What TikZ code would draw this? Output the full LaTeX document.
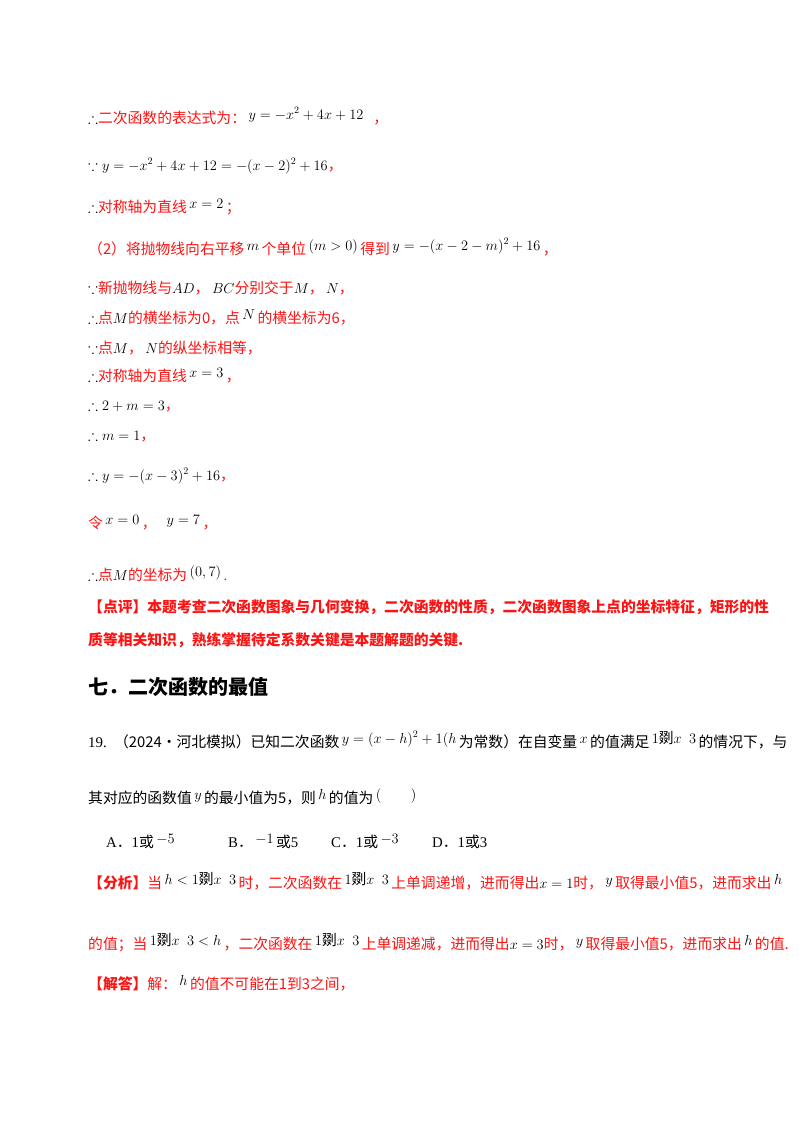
\documentclass[tikz,border=0pt]{standalone}
\usepackage{amsmath,amssymb}
\usepackage{fontspec}
\setmainfont{Liberation Serif}
\newfontfamily\cjk{Noto Sans CJK SC}
\definecolor{rd}{RGB}{250,20,20}
\newcommand{\R}[1]{\textcolor{rd}{\cjk #1}}
\newcommand{\RB}[1]{\textcolor{rd}{\cjk\bfseries #1}}
\newcommand{\K}[1]{{\cjk #1}}
\newcommand{\up}[1]{\,\raisebox{4pt}{$#1$}\,}
\newcommand{\rng}{1\text{\cjk 剟}x\ \ 3}
\begin{document}
\begin{tikzpicture}[x=1pt,y=-1pt,ln/.style={anchor=base west,inner sep=0pt,font=\fontsize{14.8}{17}\selectfont}]
\useasboundingbox (0,0) rectangle (800,1132);
\node[ln] (l1) at (88,123) {$\therefore$\R{二次函数的表达式为：}\up{y=-x^2+4x+12}\enspace\R{，}};
\node[ln] (l2) at (88,170) {$\because y=-x^2+4x+12=-(x-2)^2+16$\R{，}};
\node[ln] (l3) at (88,212) {$\therefore$\R{对称轴为直线}\up{x=2}\R{；}};
\node[ln] (l4) at (88,254) {\R{（2）将抛物线向右平移}\up{m}\R{个单位}\up{(m>0)}\R{得到}\up{y=-(x-2-m)^2+16}\R{，}};
\node[ln] (l5) at (88,293) {$\because$\R{新抛物线与}$AD$\R{，}\,$BC$\R{分别交于}$M$\R{，}\,$N$\R{，}};
\node[ln] (l6) at (88,323) {$\therefore$\R{点}$M$\R{的横坐标为0，点}\up{N}\R{的横坐标为6，}};
\node[ln] (l7) at (88,353) {$\because$\R{点}$M$\R{，}\,$N$\R{的纵坐标相等，}};
\node[ln] (l8) at (88,381) {$\therefore$\R{对称轴为直线}\up{x=3}\R{，}};
\node[ln] (l9) at (88,410) {$\therefore 2+m=3$\R{，}};
\node[ln] (l10) at (88,440) {$\therefore m=1$\R{，}};
\node[ln] (l11) at (88,480) {$\therefore y=-(x-3)^2+16$\R{，}};
\node[ln] (l12) at (88,528) {\R{令}\up{x=0}\R{，}\enspace\up{y=7}\R{，}};
\node[ln] (l13) at (88,580) {$\therefore$\R{点}$M$\R{的坐标为}\up{(0,7)}\textcolor{rd}{.}};
\node[ln] (l14) at (88,612) {\RB{【点评】本题考查二次函数图象与几何变换，二次函数的性质，二次函数图象上点的坐标特征，矩形的性}};
\node[ln] (l15) at (88,645) {\RB{质等相关知识，熟练掌握待定系数关键是本题解题的关键.}};
\node[ln,font=\fontsize{20}{23}\selectfont] (h) at (88,694) {\K{\bfseries 七．二次函数的最值}};
\node[ln] (q1) at (88,747) {19.\enspace\K{（2024•河北模拟）已知二次函数}\up{y=(x-h)^2+1(h}\K{为常数）在自变量}\up{x}\K{的值满足}\up{\rng}\K{的情况下，与}};
\node[ln] (q2) at (88,803) {\K{其对应的函数值}\up{y}\K{的最小值为5，则}\up{h}\K{的值为}\up{(\qquad)}};
\node[ln] (oA) at (106,847) {A\K{．}1\K{或}\up{-5}};
\node[ln] (oB) at (228,847) {B\K{．}\up{-1}\K{或}5};
\node[ln] (oC) at (331,847) {C\K{．}1\K{或}\up{-3}};
\node[ln] (oD) at (432,847) {D\K{．}1\K{或}3};
\node[ln] (a1) at (88,888) {\RB{【分析】}\R{当}\up{h<\rng}\R{时，二次函数在}\up{\rng}\R{上单调递增，进而得出}$x=1$\R{时，}\up{y}\R{取得最小值5，进而求出}\up{h}};
\node[ln] (a2) at (88,949) {\R{的值；当}\up{\rng<h}\R{，二次函数在}\up{\rng}\R{上单调递减，进而得出}$x=3$\R{时，}\up{y}\R{取得最小值5，进而求出}\up{h}\R{的值.}};
\node[ln] (s1) at (88,989) {\RB{【解答】}\R{解：}\up{h}\R{的值不可能在1到3之间，}};
\end{tikzpicture}
\end{document}
